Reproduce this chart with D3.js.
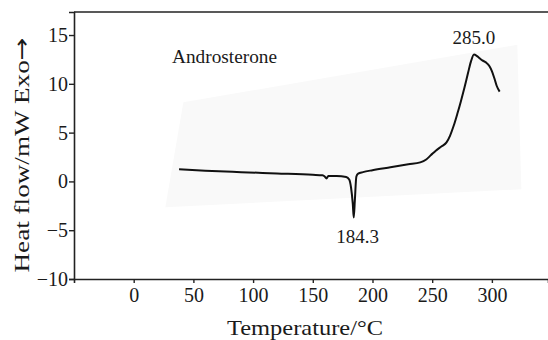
<!DOCTYPE html>
<html>
<head>
<meta charset="utf-8">
<title>Androsterone DSC</title>
<script src="https://cdn.jsdelivr.net/npm/d3@7"></script>
<style>
  body { margin: 0; background: #fff; }
  text { font-family: "Liberation Serif", "Times New Roman", serif; fill: #1a1a1a; }
</style>
</head>
<body>
<svg id="chart" width="548" height="340"></svg>
<script>
// DSC curve (temperature in °C, heat flow in mW)
var temps = [38, 60, 90, 120, 150, 158, 160, 161.5, 163, 170, 178, 180.5, 182, 183.5, 184.3, 185.2, 186.5, 188, 192, 200, 215, 230, 240, 245, 249, 253, 258, 262, 265, 268, 271, 274, 277, 280, 282.5, 285, 287, 289, 292, 295, 298, 300, 302, 304, 306.5];
var flows = [1.25, 1.1, 0.95, 0.82, 0.68, 0.62, 0.5, 0.3, 0.55, 0.55, 0.45, 0.2, -0.6, -2.3, -3.7, -2.0, 0.5, 0.8, 0.95, 1.15, 1.45, 1.75, 1.95, 2.25, 2.7, 3.15, 3.6, 4.0, 4.7, 5.7, 6.9, 8.2, 9.6, 11.1, 12.3, 13.0, 12.9, 12.7, 12.4, 12.2, 11.8, 11.3, 10.6, 9.8, 9.2];

var xTicks = [0, 50, 100, 150, 200, 250, 300];
var yTicks = [-10, -5, 0, 5, 10, 15];

// the scanned paper behind the curve
var paperT = [41.6, 321.3, 324.7, 26.5];
var paperF = [8.1, 14.0, -0.8, -2.66];

var peaks = [
  { t: 285.0, f: 13.0, label: "285.0", dx: 0, dy: -11 },
  { t: 184.3, f: -3.7, label: "184.3", dx: 4, dy: 25 }
];

var svg = d3.select("#chart");
var x = d3.scaleLinear().domain([-50, 347]).range([74, 548]);
var y = d3.scaleLinear().domain([-10, 17.36]).range([279, 12]);

svg.append("polygon")
  .attr("points", paperT.map(function(t, i) { return x(t) + "," + y(paperF[i]); }).join(" "))
  .attr("fill", "#f9f9f9");

// axes
var xAxis = svg.append("g")
  .attr("transform", "translate(0," + y(-10) + ")")
  .call(d3.axisBottom(x).tickValues(xTicks).tickSize(4).tickPadding(5).tickFormat(d3.format("d")));
var yAxis = svg.append("g")
  .attr("transform", "translate(" + x(-50) + ",0)")
  .call(d3.axisLeft(y).tickValues(yTicks).tickSize(5).tickPadding(1)
    .tickFormat(function(d) { return d < 0 ? "\u2212" + Math.abs(d) : d; }));

[xAxis, yAxis].forEach(function(g) {
  g.select(".domain").attr("stroke", "#222").attr("stroke-width", 1.6);
  g.selectAll(".tick line").attr("stroke", "#222").attr("stroke-width", 1.4);
  g.selectAll(".tick text").style("font-family", "Liberation Serif, serif").style("font-size", "20px").attr("fill", "#1a1a1a");
});

// top frame line
svg.append("line")
  .attr("x1", x(-50)).attr("x2", x(347))
  .attr("y1", y(17.36)).attr("y2", y(17.36))
  .attr("stroke", "#222").attr("stroke-width", 1.6);

// curve
var pts = temps.map(function(t, i) { return [t, flows[i]]; });
svg.append("path")
  .datum(pts)
  .attr("fill", "none")
  .attr("stroke", "#111")
  .attr("stroke-width", 2)
  .attr("stroke-linejoin", "round")
  .attr("d", d3.line().x(function(d) { return x(d[0]); }).y(function(d) { return y(d[1]); }).curve(d3.curveMonotoneX));

svg.selectAll(".peak")
  .data(peaks)
  .enter().append("text")
  .attr("class", "peak")
  .attr("x", function(d) { return x(d.t) + d.dx; })
  .attr("y", function(d) { return y(d.f) + d.dy; })
  .attr("text-anchor", "middle")
  .style("font-size", "19px")
  .text(function(d) { return d.label; });

svg.append("text")
  .attr("x", 172).attr("y", 63)
  .attr("textLength", 105)
  .attr("lengthAdjust", "spacingAndGlyphs")
  .style("font-size", "18px")
  .text("Androsterone");

svg.append("text")
  .attr("x", 305).attr("y", 335)
  .attr("text-anchor", "middle")
  .attr("textLength", 156)
  .attr("lengthAdjust", "spacingAndGlyphs")
  .style("font-size", "21px")
  .text("Temperature/\u00B0C");

var ylab = svg.append("text")
  .attr("transform", "translate(29,155) rotate(-90)")
  .attr("text-anchor", "middle")
  .attr("textLength", 235)
  .attr("lengthAdjust", "spacingAndGlyphs")
  .style("font-size", "22px");
ylab.append("tspan").text("Heat flow/mW  Exo");
ylab.append("tspan").style("font-family", "DejaVu Sans").style("font-size", "22px").text("\u2192");
</script>
</body>
</html>
